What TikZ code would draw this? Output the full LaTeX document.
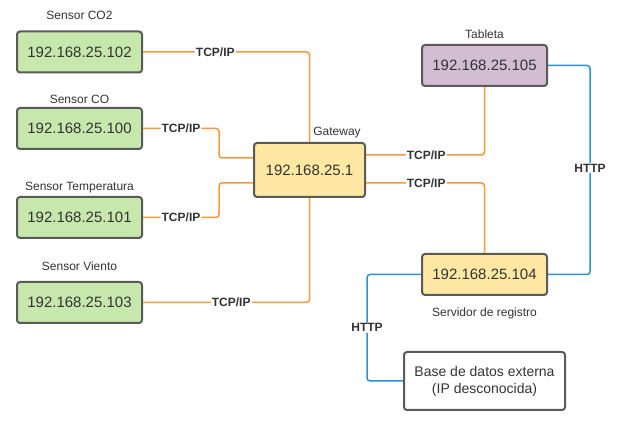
\documentclass[tikz,border=0pt]{standalone}
\usepackage{fontspec}
\setmainfont{Liberation Sans}
\usepackage{xcolor}
\usetikzlibrary{calc}
\definecolor{sensgreen}{HTML}{C7E8AC}
\definecolor{gwyellow}{HTML}{FFE8A3}
\definecolor{tabpurple}{HTML}{D2BDD3}
\definecolor{tcporange}{HTML}{F29B38}
\definecolor{httpblue}{HTML}{2E8FD2}
\definecolor{boxgray}{HTML}{5A5A5A}
\definecolor{txtgray}{HTML}{333333}

\begin{document}
\begin{tikzpicture}[x=1pt,y=1pt,
		box/.style={draw=boxgray,line width=2pt,rounded corners=3pt,minimum width=125pt,minimum height=41pt,inner sep=0pt,font=\fontsize{15}{18}\selectfont,text=txtgray},
		tag/.style={font=\fontsize{12}{14}\selectfont,text=txtgray},
		lbl/.style={fill=white,inner sep=1pt,font=\fontsize{12}{14}\selectfont\bfseries,text=txtgray},
		tcp/.style={tcporange,line width=1.5pt,rounded corners=3pt},
		http/.style={httpblue,line width=1.5pt,rounded corners=3pt}]
		\useasboundingbox (0,0) rectangle (620,435);
		% sensores
		\node[box,fill=sensgreen] (co2) at (79.5,383) {192.168.25.102};
		\node[box,fill=sensgreen] (co) at (79.5,306.5) {192.168.25.100};
		\node[box,fill=sensgreen] (temp) at (79.5,217.5) {192.168.25.101};
		\node[box,fill=sensgreen] (viento) at (79.5,132.5) {192.168.25.103};
		\node[tag] (lco2) at (79.5,420) {Sensor CO2};
		\node[tag] (lco) at (79.5,336) {Sensor CO};
		\node[tag] (ltemp) at (79.5,247) {Sensor Temperatura};
		\node[tag] (lviento) at (79.5,169) {Sensor Viento};
		% gateway, tableta, servidor
		\node[box,fill=gwyellow,minimum width=111pt,minimum height=54pt] (gw) at (309.5,265) {192.168.25.1};
		\node[tag] (lgw) at (337,302) {Gateway};
		\node[box,fill=tabpurple] (tab) at (484.5,369.5) {192.168.25.105};
		\node[tag] (ltab) at (484.5,401) {Tableta};
		\node[box,fill=gwyellow] (srv) at (484.5,160.5) {192.168.25.104};
		\node[tag] (lsrv) at (484.5,122) {Servidor de registro};
		\node[box,fill=white,minimum width=161pt,minimum height=58pt,align=center,font=\fontsize{14}{17}\selectfont] (db) at (484.5,54) {Base de datos externa\\(IP desconocida)};
		% conexiones TCP/IP
		\draw[tcp] (co2.east) -| node[lbl,pos=0.217] (t1) {TCP/IP} (gw.north);
		\draw[tcp] (co.east) -| node[lbl,pos=0.25] (t2) {TCP/IP} ($(gw.west)+(-34,12)$) -- ($(gw.west)+(0,12)$);
		\draw[tcp] (temp.east) -| node[lbl,pos=0.25] (t3) {TCP/IP} ($(gw.west)+(-34,-13)$) -- ($(gw.west)+(0,-13)$);
		\draw[tcp] (viento.east) -| node[lbl,pos=0.265] (t4) {TCP/IP} (gw.south);
		\draw[tcp] ($(gw.east)+(0,15)$) -| node[lbl,pos=0.254] (t5) {TCP/IP} (tab.south);
		\draw[tcp] ($(gw.east)+(0,-13)$) -| node[lbl,pos=0.254] (t6) {TCP/IP} (srv.north);
		% conexiones HTTP
		\draw[http] (tab.east) -- ++(42,0) |- node[lbl,pos=0.245] (h1) {HTTP} (srv.east);
		\draw[http] (srv.west) -- ++(-54,0) |- node[lbl,pos=0.25] (h2) {HTTP} (db.west);
	\end{tikzpicture}
\end{document}
